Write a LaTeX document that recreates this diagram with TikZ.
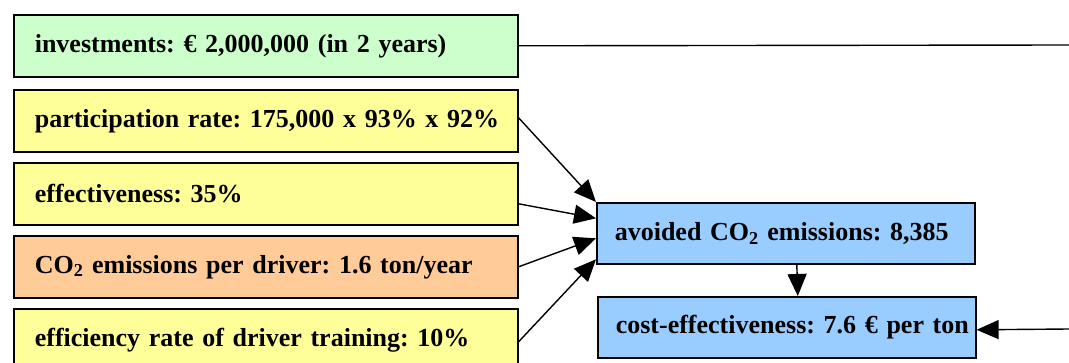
\documentclass[tikz,border=0pt]{standalone}
\usepackage{fontspec}
\setmainfont{Liberation Serif}
\usetikzlibrary{arrows.meta}
\definecolor{invgreen}{HTML}{CCFFCC}
\definecolor{inyellow}{HTML}{FFFF99}
\definecolor{inorange}{HTML}{FFCC99}
\definecolor{outblue}{HTML}{99CCFF}
\frenchspacing
\begin{document}
\begin{tikzpicture}[x=1pt, y=-1pt,
    box/.style={draw, line width=1.6pt, anchor=north west, minimum height=62pt,
        align=left, font=\fontsize{26}{30}\selectfont\bfseries},
    inbox/.style={box, inner xsep=21pt, text width=462pt},
    outbox/.style={box, inner xsep=18pt, text width=342pt, minimum height=61pt},
    link/.style={line width=1.4pt, -{Triangle[length=22pt,width=19pt]}},
    plain/.style={line width=1.4pt}]
    \useasboundingbox (0,0) rectangle (1069,363);
    \clip (0,0) rectangle (1069,363);

    % Input boxes
    \node[inbox, fill=invgreen] (inv) at (13,14) {investments: € 2,000,000 (in 2 years)};
    \node[inbox, fill=inyellow] (part) at (13,89) {\mbox{participation rate: 175,000 x 93\% x 92\%}};
    \node[inbox, fill=inyellow] (eff) at (13,162) {effectiveness: 35\%};
    \node[inbox, fill=inorange] (emis) at (13,235) {CO\textsubscript{2} emissions per driver: 1.6 ton/year};
    \node[inbox, fill=inyellow] (train) at (13,308) {efficiency rate of driver training: 10\%};

    % Result boxes
    \node[outbox, fill=outblue] (avoided) at (596,202) {avoided CO\textsubscript{2} emissions: 8,385};
    \node[outbox, fill=outblue] (cost) at (597,296) {\mbox{cost-effectiveness: 7.6 € per ton}};

    % Free ends on the right
    \coordinate (invend) at (1069,45);
    \coordinate (costend) at (1069,329);

    % Connectors
    \draw[plain] (inv.east) -- (invend);
    \draw[link] ([yshift=3pt]part.east) -- (avoided.north west);
    \draw[link] ([yshift=-10pt]eff.east) -- ([yshift=15pt]avoided.west);
    \draw[link] (emis.east) -- ([yshift=-5pt]avoided.west);
    \draw[link] ([yshift=-2pt]train.east) -- ([yshift=-26pt]avoided.west);
    \draw[link] ([xshift=11pt]avoided.south) -- ([xshift=11pt]cost.north);
    \draw[link] (costend) -- ([yshift=-2.5pt]cost.east);
\end{tikzpicture}
\end{document}
